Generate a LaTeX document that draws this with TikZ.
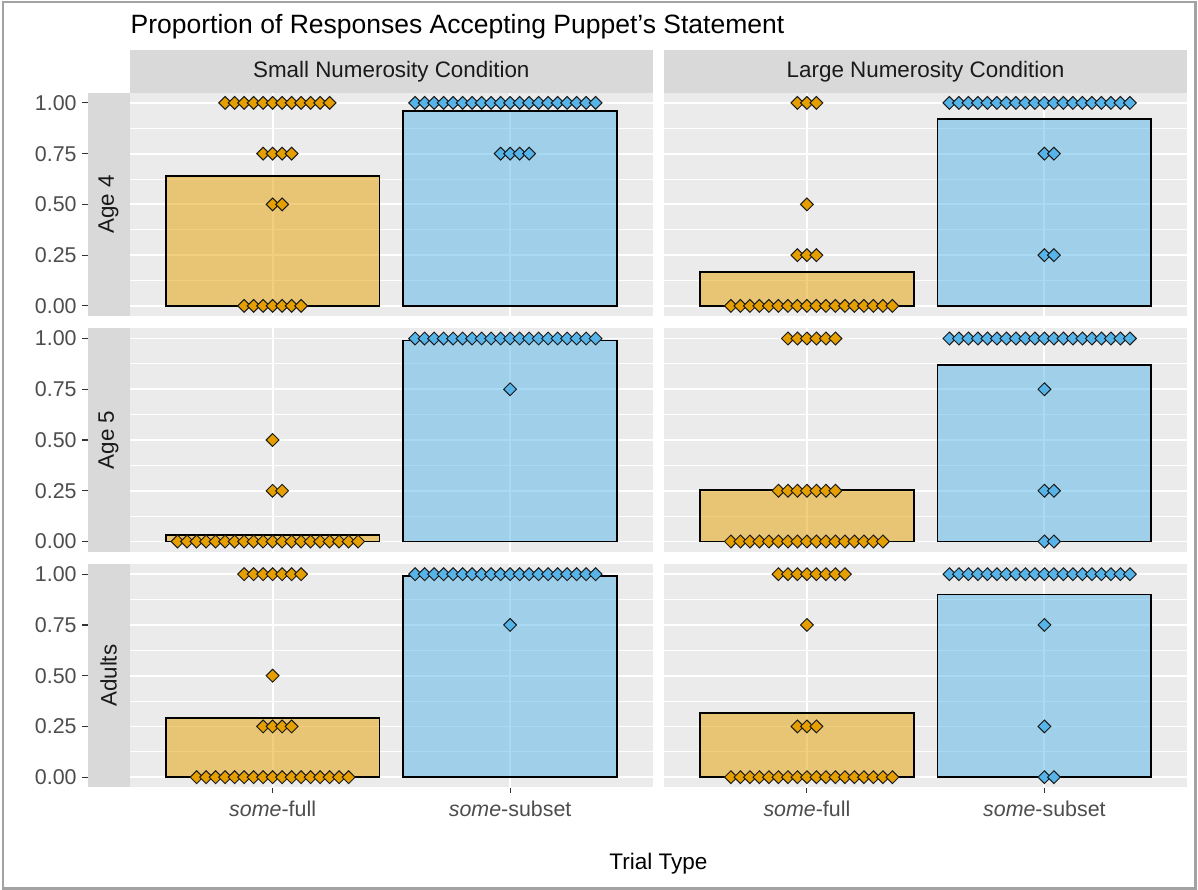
\documentclass[tikz,border=0pt]{standalone}
\usepackage{fontspec}
\setmainfont{Liberation Sans}
\definecolor{pbg}{HTML}{EBEBEB}
\definecolor{sbg}{HTML}{D9D9D9}
\definecolor{orng}{HTML}{E69F00}
\definecolor{skyb}{HTML}{56B4E9}
\definecolor{tgray}{HTML}{4D4D4D}
\definecolor{sgray}{HTML}{1A1A1A}
\definecolor{tickc}{HTML}{333333}
\definecolor{framegray}{HTML}{A3A3A3}
\definecolor{dotline}{HTML}{1A1A1A}
\tikzset{
  majorgrid/.style={white, line width=1.9pt},
  minorgrid/.style={white, line width=1pt},
  barbox/.style={draw=black, line width=1.9pt, fill opacity=0.5},
  dmd/.style={draw=dotline, line width=1pt, line join=miter},
  tickline/.style={draw=tickc, line width=1.1pt},
  ticktext/.style={text=tgray, inner sep=0pt, font=\fontsize{21.4}{24}\selectfont},
  striptext/.style={text=sgray, inner sep=0pt, font=\fontsize{22.4}{25}\selectfont},
}
\def\dotsp{9.5}
\def\dotr{6.4}
\newcommand{\panelbox}[2]{%
  \fill[pbg] (#1,#2) rectangle ++(522.7,223.4);
  \foreach \v in {0.125,0.375,0.625,0.875}{\draw[minorgrid] (#1,#2+213.2-\v*203) -- ++(522.7,0);}
  \foreach \v in {0,0.25,0.5,0.75,1}{\draw[majorgrid] (#1,#2+213.2-\v*203) -- ++(522.7,0);}
  \draw[majorgrid] (#1+142.6,#2) -- ++(0,223.4);
  \draw[majorgrid] (#1+380.1,#2) -- ++(0,223.4);
}
\newcommand{\drawbar}[4]{\draw[barbox,fill=#4] (#1-106.9,#2) rectangle (#1+106.9,#2-#3*203);}
\newcommand{\dotrow}[6]{%
  \foreach \ii in {1,...,#5}{%
    \pgfmathsetmacro{\xx}{#1+(#4+\ii-1)*\dotsp}%
    \pgfmathsetmacro{\yy}{#2-#3*203}%
    \draw[dmd,fill=#6] (\xx-\dotr,\yy) -- (\xx,\yy-\dotr) -- (\xx+\dotr,\yy) -- (\xx,\yy+\dotr) -- cycle;
  }}
\begin{document}
\begin{tikzpicture}[x=1pt,y=-1pt]
\useasboundingbox (0,0) rectangle (1198,890);
\fill[white] (0,0) rectangle (1198,890);
\draw[framegray, line width=2.2pt] (2.6,1.8) rectangle (1195.4,888.4);

% title
\node[anchor=base west, inner sep=0pt, font=\fontsize{26.5}{30}\selectfont] (title) at (130.5,33.3) {Proportion of Responses Accepting Puppet’s Statement};

% column strips
\fill[sbg] (130,50) rectangle (652.7,92.7);
\fill[sbg] (664.3,50) rectangle (1186.7,92.7);
\node[striptext, anchor=base] (colL) at (391.3,77.7) {Small Numerosity Condition};
\node[striptext, anchor=base] (colR) at (925.5,77.7) {Large Numerosity Condition};

% row strips
\fill[sbg] (87.7,92.7) rectangle (130,316.1);
\fill[sbg] (87.7,328.3) rectangle (130,551.7);
\fill[sbg] (87.7,564.0) rectangle (130,787.4);
\node[striptext, rotate=90] (rowA) at (108.6,204.4) {Age 4};
\node[striptext, rotate=90] (rowB) at (108.6,440.0) {Age 5};
\node[striptext, rotate=90] (rowC) at (108.6,675.7) {Adults};

% panels
\panelbox{130}{92.7}
\panelbox{664.3}{92.7}
\panelbox{130}{328.3}
\panelbox{664.3}{328.3}
\panelbox{130}{564.0}
\panelbox{664.3}{564.0}

% y axis ticks and labels
\foreach \yz [count=\r] in {305.9,541.5,777.2}{
  \foreach \v/\l [count=\k] in {0/0.00,0.25/0.25,0.5/0.50,0.75/0.75,1/1.00}{
    \draw[tickline] (82.2,\yz-\v*203) -- (87.7,\yz-\v*203);
    \node[ticktext, anchor=east] (yl-\r-\k) at (76.8,\yz-\v*203) {\l};
  }
}

% x axis ticks and labels
\foreach \xc/\lab [count=\k] in {272.6/{\textit{some}-full},510.1/{\textit{some}-subset},806.9/{\textit{some}-full},1044.4/{\textit{some}-subset}}{
  \draw[tickline] (\xc,787.6) -- (\xc,793.2);
  \node[ticktext, anchor=base] (xl-\k) at (\xc,816.7) {\lab};
}
\node[anchor=base, inner sep=0pt, font=\fontsize{22.5}{25}\selectfont] (xtitle) at (658.4,869) {Trial Type};

% bars
\drawbar{272.6}{305.9}{0.64}{orng}
\drawbar{510.1}{305.9}{0.96}{skyb}
\drawbar{806.9}{305.9}{0.167}{orng}
\drawbar{1044.4}{305.9}{0.92}{skyb}
\drawbar{272.6}{541.5}{0.033}{orng}
\drawbar{510.1}{541.5}{0.99}{skyb}
\drawbar{806.9}{541.5}{0.255}{orng}
\drawbar{1044.4}{541.5}{0.87}{skyb}
\drawbar{272.6}{777.2}{0.292}{orng}
\drawbar{510.1}{777.2}{0.99}{skyb}
\drawbar{806.9}{777.2}{0.315}{orng}
\drawbar{1044.4}{777.2}{0.90}{skyb}

% dots row 1
\dotrow{272.6}{305.9}{1}{-5}{12}{orng}
\dotrow{272.6}{305.9}{0.75}{-1}{4}{orng}
\dotrow{272.6}{305.9}{0.5}{0}{2}{orng}
\dotrow{272.6}{305.9}{0}{-3}{7}{orng}
\dotrow{510.1}{305.9}{1}{-10}{20}{skyb}
\dotrow{510.1}{305.9}{0.75}{-1}{4}{skyb}
\dotrow{806.9}{305.9}{1}{-1}{3}{orng}
\dotrow{806.9}{305.9}{0.5}{0}{1}{orng}
\dotrow{806.9}{305.9}{0.25}{-1}{3}{orng}
\dotrow{806.9}{305.9}{0}{-8}{18}{orng}
\dotrow{1044.4}{305.9}{1}{-10}{20}{skyb}
\dotrow{1044.4}{305.9}{0.75}{0}{2}{skyb}
\dotrow{1044.4}{305.9}{0.25}{0}{2}{skyb}
% dots row 2
\dotrow{272.6}{541.5}{0.5}{0}{1}{orng}
\dotrow{272.6}{541.5}{0.25}{0}{2}{orng}
\dotrow{272.6}{541.5}{0}{-10}{20}{orng}
\dotrow{510.1}{541.5}{1}{-10}{20}{skyb}
\dotrow{510.1}{541.5}{0.75}{0}{1}{skyb}
\dotrow{806.9}{541.5}{1}{-2}{6}{orng}
\dotrow{806.9}{541.5}{0.25}{-3}{7}{orng}
\dotrow{806.9}{541.5}{0}{-8}{17}{orng}
\dotrow{1044.4}{541.5}{1}{-10}{20}{skyb}
\dotrow{1044.4}{541.5}{0.75}{0}{1}{skyb}
\dotrow{1044.4}{541.5}{0.25}{0}{2}{skyb}
\dotrow{1044.4}{541.5}{0}{0}{2}{skyb}
% dots row 3
\dotrow{272.6}{777.2}{1}{-3}{7}{orng}
\dotrow{272.6}{777.2}{0.5}{0}{1}{orng}
\dotrow{272.6}{777.2}{0.25}{-1}{4}{orng}
\dotrow{272.6}{777.2}{0}{-8}{17}{orng}
\dotrow{510.1}{777.2}{1}{-10}{20}{skyb}
\dotrow{510.1}{777.2}{0.75}{0}{1}{skyb}
\dotrow{806.9}{777.2}{1}{-3}{8}{orng}
\dotrow{806.9}{777.2}{0.75}{0}{1}{orng}
\dotrow{806.9}{777.2}{0.25}{-1}{3}{orng}
\dotrow{806.9}{777.2}{0}{-8}{18}{orng}
\dotrow{1044.4}{777.2}{1}{-10}{20}{skyb}
\dotrow{1044.4}{777.2}{0.75}{0}{1}{skyb}
\dotrow{1044.4}{777.2}{0.25}{0}{1}{skyb}
\dotrow{1044.4}{777.2}{0}{0}{2}{skyb}
\end{tikzpicture}
\end{document}
